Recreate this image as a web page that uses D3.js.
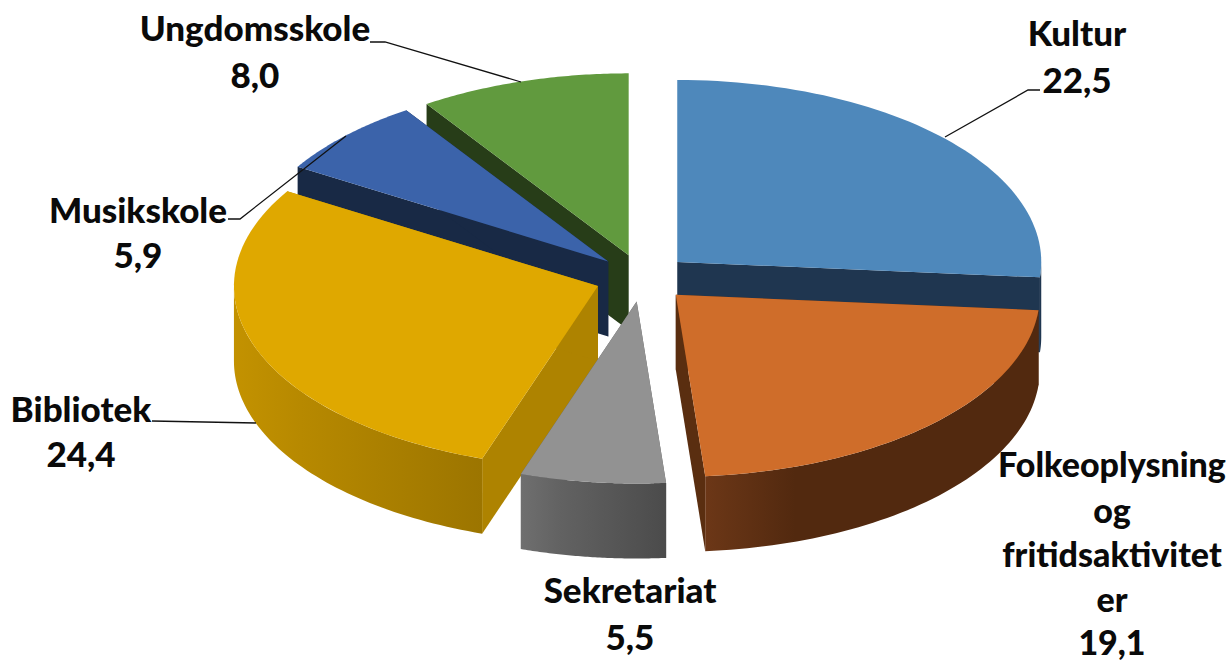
<!DOCTYPE html>
<html>
<head>
<meta charset="utf-8">
<script src="https://cdn.jsdelivr.net/npm/d3@7"></script>
<style>
  body { margin: 0; background: #fff; }
  text { font-family: Lato, "Open Sans", sans-serif; font-weight: 900; fill: #0a0a0a; }
</style>
</head>
<body>
<div id="chart"></div>
<script>
// data
var categories = ["Kultur", "Folkeoplysning og fritidsaktiviteter", "Sekretariat", "Bibliotek", "Musikskole", "Ungdomsskole"];
var values = [22.5, 19.1, 5.5, 24.4, 5.9, 8.0];
var valueLabels = ["22,5", "19,1", "5,5", "24,4", "5,9", "8,0"];

// colours per slice
var topColors = ["#4e88bb", "#cf6d2a", "#929292", "#dfa800", "#3b63aa", "#619a3e"];
var cutColors = ["#1f3650", "#5a2e10", "#5c5c5c", "#ae8300", "#182945", "#273d18"];
var wallLeft = ["#1f3650", "#6c3717", "#6f6f6f", "#c39200", "#182945", "#273d18"];
var wallMid = ["#1f3650", "#52290f", "#626262", "#b78900", "#182945", "#273d18"];
var wallRight = ["#1f3650", "#52290f", "#4b4b4b", "#9c7500", "#182945", "#273d18"];

var w = 1229, h = 663;
var cx = 642.4, cy = 278;
var rx = 364, ry = 182;
var depth = 75;
var explode = 0.13;

var svg = d3.select("#chart").append("svg")
    .attr("width", w)
    .attr("height", h);

var defs = svg.append("defs");

// unit circle to screen, tilted pie
var xScale = d3.scaleLinear().domain([-1, 1]).range([-rx, rx]);
var yScale = d3.scaleLinear().domain([-1, 1]).range([-ry, ry]);

var pie = d3.pie().sort(null).value(function(d) { return d; });
var slices = pie(values);

var line = d3.line();

function point(center, a, r, dz) {
    return [center[0] + xScale(r * Math.sin(a)), center[1] + yScale(-r * Math.cos(a)) + dz];
}

function cutFace(center, a) {
    return line([point(center, a, 0, 0), point(center, a, 1, 0), point(center, a, 1, depth), point(center, a, 0, depth)]) + "Z";
}

function arcAngles(a0, a1) {
    return d3.range(0, 61).map(function(i) { return a0 + (a1 - a0) * i / 60; });
}

// only the front half of the rim is ever seen, past that the polygon folds over itself
function outerWall(center, a0, a1) {
    var from = Math.max(a0, Math.PI / 2);
    var to = Math.min(a1, 3 * Math.PI / 2);
    if (to <= from) return null;
    var steps = arcAngles(from, to);
    var top = steps.map(function(a) { return point(center, a, 1, 0); });
    var bottom = steps.slice().reverse().map(function(a) { return point(center, a, 1, depth); });
    return line(top.concat(bottom)) + "Z";
}

function topFace(center, a0, a1) {
    var arc = arcAngles(a0, a1).map(function(a) { return point(center, a, 1, 0); });
    return line([point(center, a0, 0, 0)].concat(arc)) + "Z";
}

// back slices first, the grey one ends up on top
var drawOrder = [5, 4, 0, 3, 1, 2];

var g = svg.append("g").attr("class", "pie");

drawOrder.forEach(function(i) {
    var d = slices[i];
    var mid = (d.startAngle + d.endAngle) / 2;
    var center = [cx + xScale(explode * Math.sin(mid)), cy + yScale(-explode * Math.cos(mid))];

    var grad = defs.append("linearGradient")
        .attr("id", "wall" + i)
        .attr("x1", 0).attr("x2", 1).attr("y1", 0).attr("y2", 0);
    grad.append("stop").attr("offset", 0).attr("stop-color", wallLeft[i]);
    grad.append("stop").attr("offset", 0.27).attr("stop-color", wallMid[i]);
    grad.append("stop").attr("offset", 1).attr("stop-color", wallRight[i]);

    var slice = g.append("g").attr("class", "slice");

    slice.append("path")
        .attr("d", cutFace(center, d.startAngle))
        .attr("fill", cutColors[i]);

    slice.append("path")
        .attr("d", cutFace(center, d.endAngle))
        .attr("fill", cutColors[i]);

    var rim = outerWall(center, d.startAngle, d.endAngle);
    if (rim) {
        slice.append("path")
            .attr("d", rim)
            .attr("fill", "url(#wall" + i + ")");
    }

    slice.append("path")
        .attr("d", topFace(center, d.startAngle, d.endAngle))
        .attr("fill", topColors[i]);
});

// ---------- leader lines
var leaders = [
    [[945, 137], [1028, 90], [1040, 90]],
    [[521, 82], [385, 42], [370, 42]],
    [[346, 136], [240, 219], [228, 219]],
    [[256, 423], [152, 421]]
];

leaders.forEach(function(d) {
    svg.append("path")
        .attr("d", line(d))
        .attr("fill", "none")
        .attr("stroke", "#111")
        .attr("stroke-width", 1.3);
});

// ---------- labels
var labels = [
    { x: 1077, size: 35, lines: [[categories[0], 46], [valueLabels[0], 93]] },
    { x: 1112, size: 34, lines: [["Folkeoplysning", 477], ["og", 523], ["fritidsaktivitet", 567], ["er", 612], [valueLabels[1], 655]] },
    { x: 630, size: 35, lines: [[categories[2], 603], [valueLabels[2], 650]] },
    { x: 81, size: 35, lines: [[categories[3], 422], [valueLabels[3], 467]] },
    { x: 138, size: 35, lines: [[categories[4], 223], [valueLabels[4], 268]] },
    { x: 255, size: 35, lines: [[categories[5], 41], [valueLabels[5], 88]] }
];

labels.forEach(function(d) {
    d.lines.forEach(function(l) {
        svg.append("text")
            .attr("x", d.x)
            .attr("y", l[1])
            .attr("text-anchor", "middle")
            .attr("font-size", d.size)
            .text(l[0]);
    });
});
</script>
</body>
</html>
